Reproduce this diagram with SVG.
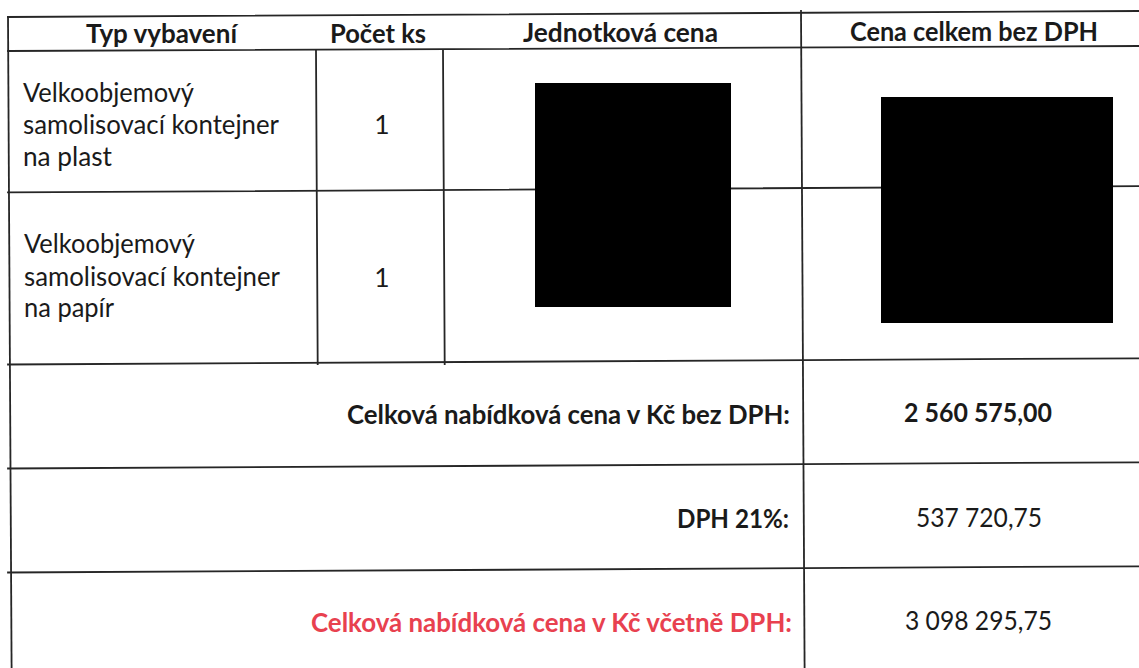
<svg xmlns="http://www.w3.org/2000/svg" width="1139" height="668" viewBox="0 0 1139 668">
<style>
  .ln { stroke: #262626; stroke-width: 1.8; fill: none; stroke-linecap: square; }
  .t { font-family: Lato, "Liberation Sans", sans-serif; font-size: 26.5px; fill: #1a1a1a; }
  .b { font-weight: 700; }
  .red { fill: #e8414f; }
  .mask { fill: #000000; }
</style>
<rect x="0" y="0" width="1139" height="668" fill="#ffffff"/>
<g id="grid">
  <line class="ln" x1="8" y1="17" x2="1139" y2="11"/>
  <line class="ln" x1="8" y1="51" x2="1139" y2="46"/>
  <line class="ln" x1="8" y1="192.4" x2="1139" y2="186.2"/>
  <line class="ln" x1="8" y1="364.5" x2="1139" y2="358.3"/>
  <line class="ln" x1="8" y1="468.5" x2="1139" y2="462.3"/>
  <line class="ln" x1="8" y1="572.5" x2="1139" y2="566.3"/>
  <line class="ln" x1="8" y1="17" x2="11.6" y2="668"/>
  <line class="ln" x1="316" y1="51" x2="317.7" y2="364"/>
  <line class="ln" x1="443" y1="51" x2="444.7" y2="364"/>
  <line class="ln" x1="801" y1="11" x2="804.6" y2="668"/>
</g>
<g id="header">
  <text class="t b" x="86" y="43" textLength="151" lengthAdjust="spacingAndGlyphs">Typ vybavení</text>
  <text class="t b" x="330" y="43" textLength="96" lengthAdjust="spacingAndGlyphs">Počet ks</text>
  <text class="t b" x="523" y="42" textLength="195" lengthAdjust="spacingAndGlyphs">Jednotková cena</text>
  <text class="t b" x="850" y="41" textLength="248" lengthAdjust="spacingAndGlyphs">Cena celkem bez DPH</text>
</g>
<g id="row-plast">
  <text class="t" x="23" y="102" textLength="171" lengthAdjust="spacingAndGlyphs">Velkoobjemový</text>
  <text class="t" x="23" y="134" textLength="256" lengthAdjust="spacingAndGlyphs">samolisovací kontejner</text>
  <text class="t" x="23" y="166" textLength="89" lengthAdjust="spacingAndGlyphs">na plast</text>
  <text class="t" x="382" y="134" text-anchor="middle">1</text>
</g>
<g id="row-papir">
  <text class="t" x="24" y="253" textLength="171" lengthAdjust="spacingAndGlyphs">Velkoobjemový</text>
  <text class="t" x="24" y="286" textLength="256" lengthAdjust="spacingAndGlyphs">samolisovací kontejner</text>
  <text class="t" x="24" y="317" textLength="90" lengthAdjust="spacingAndGlyphs">na papír</text>
  <text class="t" x="382" y="287" text-anchor="middle">1</text>
</g>
<g id="redactions">
  <rect class="mask" x="535" y="83" width="196" height="224"/>
  <rect class="mask" x="881" y="97" width="232" height="226"/>
</g>
<g id="total-bez-dph">
  <text class="t b" x="347" y="424" textLength="443" lengthAdjust="spacingAndGlyphs">Celková nabídková cena v Kč bez DPH:</text>
  <text class="t b" x="904" y="422" textLength="148" lengthAdjust="spacingAndGlyphs">2 560 575,00</text>
</g>
<g id="dph">
  <text class="t b" x="677" y="528" textLength="112" lengthAdjust="spacingAndGlyphs">DPH 21%:</text>
  <text class="t" x="916" y="527" textLength="126" lengthAdjust="spacingAndGlyphs">537 720,75</text>
</g>
<g id="total-s-dph">
  <text class="t b red" x="311" y="632" textLength="481" lengthAdjust="spacingAndGlyphs">Celková nabídková cena v Kč včetně DPH:</text>
  <text class="t" x="905" y="630" textLength="147" lengthAdjust="spacingAndGlyphs">3 098 295,75</text>
</g>
</svg>
